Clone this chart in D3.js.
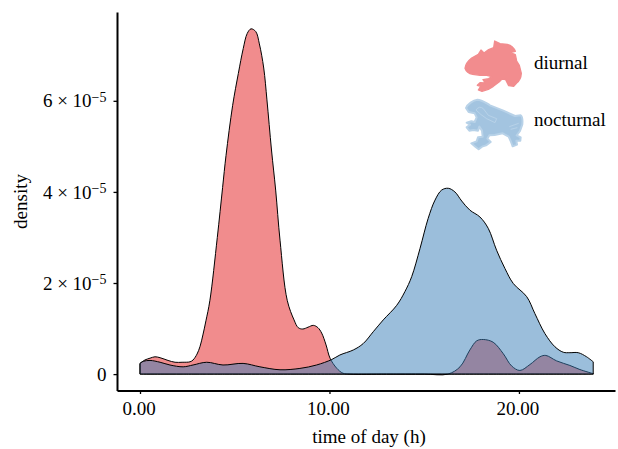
<!DOCTYPE html>
<html>
<head>
<meta charset="utf-8">
<title>activity density</title>
<script src="https://cdn.jsdelivr.net/npm/d3@7"></script>
<style>
	body { margin: 0; background: #fff; }
	svg { display: block; }
	text { font-family: "Liberation Serif", serif; fill: #000; }
</style>
</head>
<body>
<svg id="chart" width="618" height="449"></svg>
<script>
// hours and density (in units of 1e-5)
const diurnalHours = [0, 0.26, 0.53, 0.79, 1.06, 1.48, 1.85, 2.22, 2.64, 2.8, 3.01, 3.17, 3.32, 3.48, 3.69, 4.08, 4.36, 4.54, 4.89, 5.19, 5.45, 5.66, 5.86, 6.11, 6.3, 6.53, 6.7, 6.94, 7.16, 7.39, 7.77, 8.13, 8.35, 8.59, 8.87, 9.15, 9.39, 9.59, 9.82, 10.03, 10.38, 10.71, 11.08, 13, 15, 16.25, 16.89, 17.41, 17.77, 18.12, 18.64, 19.17, 19.61, 20.05, 20.58, 21.11, 21.42, 21.99, 22.69, 23.22, 23.92];
const diurnalDensity = [0.235, 0.31, 0.35, 0.38, 0.36, 0.3, 0.26, 0.26, 0.27, 0.31, 0.44, 0.61, 0.86, 1.17, 1.62, 3, 4.1, 4.8, 5.9, 6.6, 7.15, 7.48, 7.58, 7.52, 7.25, 6.72, 6.02, 4.92, 4.04, 2.94, 1.62, 1.19, 1.02, 0.99, 1.03, 1.07, 1.02, 0.9, 0.64, 0.35, 0.13, 0.02, 0, 0, 0, 0, 0.16, 0.53, 0.73, 0.76, 0.7, 0.45, 0.18, 0.08, 0.21, 0.38, 0.41, 0.29, 0.19, 0.1, 0.01];
const nocturnalHours = [0, 0.17, 0.53, 1.06, 1.58, 2.28, 2.8, 3.52, 4.38, 5.44, 6.33, 7.39, 8.44, 9.32, 10.12, 10.55, 11.26, 11.78, 12.31, 12.84, 13.55, 13.98, 14.34, 14.78, 15.21, 15.57, 15.92, 16.27, 16.62, 16.98, 17.41, 17.94, 18.38, 18.82, 19.26, 19.7, 20.41, 20.84, 21.37, 21.9, 22.34, 22.69, 23.13, 23.57, 23.92];
const nocturnalDensity = [0.235, 0.28, 0.3, 0.26, 0.2, 0.16, 0.2, 0.26, 0.2, 0.235, 0.16, 0.095, 0.125, 0.2, 0.32, 0.42, 0.53, 0.67, 0.93, 1.19, 1.51, 1.81, 2.14, 2.76, 3.42, 3.82, 4.04, 4.08, 4, 3.8, 3.6, 3.45, 3.2, 2.72, 2.32, 1.99, 1.7, 1.33, 0.89, 0.6, 0.48, 0.47, 0.47, 0.38, 0.27];

const xTicks = [0, 10, 20];
const yTicks = [0, 2, 4, 6];

const diurnalColor = '#e41a1c';
const nocturnalColor = '#377eb8';

const frogRed = 'M15 97Q17 80 35 66L55 55L63 42L72 51L86 41L101 35L104 15L120 23L142 25Q160 30 166 46L151 50L166 56L170 75L178 88L184 112Q183 132 170 141L161 151L146 149L137 131L126 129L118 137L100 151L85 160L66 166L55 162L62 151L52 148L60 140L76 141L69 131L86 128L96 122L80 118L60 118L38 115Q20 112 15 97Z';
const frogBlue = 'M18 36C22 25 40 12 52 11C66 11 76 20 90 28L130 44L165 60L182 58Q189 62 187 85L180 105L170 118L182 124L181 134L169 134L171 146L158 151L152 135L146 122L128 112L104 117L88 118L82 128L92 138L78 148L66 152L56 160L46 152L34 142L50 136L54 124L68 122L66 104L58 92L54 104L40 102L28 104L20 94L30 86L20 80L34 76L44 78L50 64L44 52L26 48Z';
const frogBlueMarks = 'M48 42Q58 28 70 38L85 58L110 68L105 80L80 68L62 55L48 42M148 92L176 82M152 100L172 95';

const svg = d3.select('#chart');

svg.append('filter').attr('id', 'soft').append('feGaussianBlur').attr('stdDeviation', 0.8);

const x = d3.scaleLinear().domain([-1.214, 25.07]).range([117, 615]);
const y = d3.scaleLinear().domain([-0.36, 7.95]).range([390.5, 12]);

const area = d3.area()
	.x((d) => x(d[0]))
	.y0(y(0))
	.y1((d) => y(d[1]))
	.curve(d3.curveCatmullRom.alpha(0.5));

svg.append('path')
	.datum(d3.zip(diurnalHours, diurnalDensity))
	.attr('fill', diurnalColor)
	.attr('fill-opacity', 0.5)
	.attr('stroke', '#000')
	.attr('stroke-width', 1)
	.attr('d', area);

svg.append('path')
	.datum(d3.zip(nocturnalHours, nocturnalDensity))
	.attr('fill', nocturnalColor)
	.attr('fill-opacity', 0.5)
	.attr('stroke', '#000')
	.attr('stroke-width', 1)
	.attr('d', area);

// axes
const xAxis = svg.append('g')
	.attr('transform', 'translate(0,390.5)')
	.call(d3.axisBottom(x).tickValues(xTicks).tickSize(3.5).tickSizeOuter(0).tickPadding(8).tickFormat(d3.format('.2f')));

const yAxis = svg.append('g')
	.attr('transform', 'translate(117,0)')
	.call(d3.axisLeft(y).tickValues(yTicks).tickSize(3.5).tickSizeOuter(0).tickPadding(7).tickFormat(''));

[xAxis, yAxis].forEach((g) => {
	g.select('.domain').attr('stroke', '#000').attr('stroke-width', 2);
	g.selectAll('.tick line').attr('stroke', '#000').attr('stroke-width', 1.3);
});
xAxis.selectAll('.tick text')
	.style('font-family', '"Liberation Serif", serif')
	.style('font-size', '19px')
	.attr('fill', '#000')
	.attr('x', -1.5);

// y labels like 6 x 10^-5, built by hand because the axis only gives plain text
yAxis.selectAll('.tick text').each(function (d) {
	const label = d3.select(this)
		.style('font-family', '"Liberation Serif", serif')
		.style('font-size', '19px')
		.attr('fill', '#000')
		.attr('x', -10.5)
		.attr('dy', '0.32em');
	if (d === 0) {
		label.text('0');
		return;
	}
	label.append('tspan').text(d + ' × 10');
	label.append('tspan').attr('dy', '-0.42em').style('font-size', '14px').text('−5');
});

svg.append('text')
	.attr('x', 369)
	.attr('y', 443)
	.attr('text-anchor', 'middle')
	.style('font-size', '19px')
	.text('time of day (h)');

svg.append('text')
	.attr('transform', 'translate(27,201.5) rotate(-90)')
	.attr('text-anchor', 'middle')
	.style('font-size', '19px')
	.text('density');

// legend frogs, traced by eye at 3x
svg.append('path')
	.attr('transform', 'translate(460,36) scale(0.3333)')
	.attr('d', frogRed)
	.attr('fill', '#f28c8e')
	.attr('stroke', '#f28c8e')
	.attr('stroke-width', 4)
	.attr('stroke-linejoin', 'round')
	.attr('filter', 'url(#soft)');

const frogB = svg.append('g')
	.attr('transform', 'translate(460,96) scale(0.3333)')
	.attr('filter', 'url(#soft)');
frogB.append('path')
	.attr('d', frogBlue)
	.attr('fill', '#a3c4e0')
	.attr('stroke', '#b8d2e8')
	.attr('stroke-width', 6)
	.attr('stroke-linejoin', 'round');
frogB.append('path')
	.attr('d', frogBlueMarks)
	.attr('fill', 'none')
	.attr('stroke', '#b8d2e8')
	.attr('stroke-width', 3);

svg.append('text').attr('x', 534).attr('y', 69.3).style('font-size', '19px').text('diurnal');
svg.append('text').attr('x', 534).attr('y', 125.7).style('font-size', '19px').text('nocturnal');
</script>
</body>
</html>
